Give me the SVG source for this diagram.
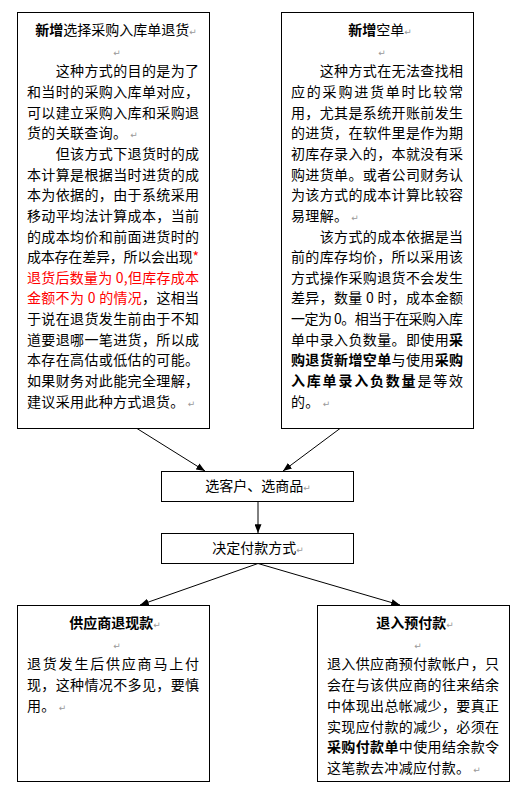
<svg xmlns="http://www.w3.org/2000/svg" width="524" height="804" viewBox="0 0 524 804">
<style>
.t{font-family:"Noto Sans CJK SC","Noto Sans CJK JP",sans-serif;font-size:14px;fill:#000}
.n{letter-spacing:0.33px}
.b{font-weight:bold}
.r{fill:#f00}
.p{font-family:"DejaVu Sans",sans-serif;font-size:9px;font-weight:normal;fill:#999;letter-spacing:0}
.box{fill:#fff;stroke:#000;stroke-width:1}
.c{stroke:#000;stroke-width:1;fill:none;marker-end:url(#ah)}
</style>
<defs>
<marker id="ah" markerUnits="userSpaceOnUse" viewBox="0 0 10 8" refX="10" refY="4" markerWidth="9" markerHeight="7" orient="auto">
<path d="M0,0 L10,4 L0,8 z" fill="#000"/>
</marker>
</defs>
<rect width="524" height="804" fill="#fff"/>
<g id="connectors">
<line class="c" x1="137" y1="428.5" x2="205" y2="471"/>
<line class="c" x1="340" y1="428.5" x2="283" y2="471"/>
<line class="c" x1="258" y1="501.5" x2="258" y2="533"/>
<line class="c" x1="258" y1="563.5" x2="140" y2="605"/>
<line class="c" x1="258" y1="563.5" x2="400" y2="605"/>
</g>
<g id="node-xuanze">
<rect class="box" x="17.5" y="12.5" width="192" height="416"/>
<text class="t" x="116" y="35" text-anchor="middle"><tspan class="b">新增</tspan>选择采购入库单退货<tspan class="p">↵</tspan></text>
<text class="p" x="117" y="55.65" text-anchor="middle">↵</text>
<text class="t" x="55.7" y="76.3" textLength="143.3" lengthAdjust="spacing">这种方式的目的是为了</text>
<text class="t" x="27" y="96.95" textLength="172" lengthAdjust="spacing">和当时的采购入库单对应，</text>
<text class="t" x="27" y="117.6" textLength="172" lengthAdjust="spacing">可以建立采购入库和采购退</text>
<text class="t n" x="27" y="138.25">货的关联查询。<tspan class="p" dx="3">↵</tspan></text>
<text class="t" x="55.7" y="158.9" textLength="143.3" lengthAdjust="spacing">但该方式下退货时的成</text>
<text class="t" x="27" y="179.55" textLength="172" lengthAdjust="spacing">本计算是根据当时进货的成</text>
<text class="t" x="27" y="200.2" textLength="172" lengthAdjust="spacing">本为依据的，由于系统采用</text>
<text class="t" x="27" y="220.85" textLength="172" lengthAdjust="spacing">移动平均法计算成本，当前</text>
<text class="t" x="27" y="241.5" textLength="172" lengthAdjust="spacing">的成本均价和前面进货时的</text>
<text class="t" x="27" y="262.15" textLength="172" lengthAdjust="spacing">成本存在差异，所以会出现<tspan class="r">*</tspan></text>
<text class="t r" x="27" y="282.8" textLength="172" lengthAdjust="spacing">退货后数量为 0,但库存成本</text>
<text class="t" x="27" y="303.45" textLength="172" lengthAdjust="spacing"><tspan class="r">金额不为 0 的情况</tspan>，这相当</text>
<text class="t" x="27" y="324.1" textLength="172" lengthAdjust="spacing">于说在退货发生前由于不知</text>
<text class="t" x="27" y="344.75" textLength="172" lengthAdjust="spacing">道要退哪一笔进货，所以成</text>
<text class="t" x="27" y="365.4" textLength="172" lengthAdjust="spacing">本存在高估或低估的可能。</text>
<text class="t" x="27" y="386.05" textLength="172" lengthAdjust="spacing">如果财务对此能完全理解，</text>
<text class="t n" x="27" y="406.7">建议采用此种方式退货。<tspan class="p" dx="3">↵</tspan></text>
</g>
<g id="node-kongdan">
<rect class="box" x="281.5" y="12.5" width="192" height="416"/>
<text class="t" x="380" y="35" text-anchor="middle"><tspan class="b">新增</tspan>空单<tspan class="p">↵</tspan></text>
<text class="p" x="382" y="55.65" text-anchor="middle">↵</text>
<text class="t" x="319.7" y="76.3" textLength="143.3" lengthAdjust="spacing">这种方式在无法查找相</text>
<text class="t" x="291" y="96.95" textLength="172" lengthAdjust="spacing">应的采购进货单时比较常</text>
<text class="t" x="291" y="117.6" textLength="172" lengthAdjust="spacing">用，尤其是系统开账前发生</text>
<text class="t" x="291" y="138.25" textLength="172" lengthAdjust="spacing">的进货，在软件里是作为期</text>
<text class="t" x="291" y="158.9" textLength="172" lengthAdjust="spacing">初库存录入的，本就没有采</text>
<text class="t" x="291" y="179.55" textLength="172" lengthAdjust="spacing">购进货单。或者公司财务认</text>
<text class="t" x="291" y="200.2" textLength="172" lengthAdjust="spacing">为该方式的成本计算比较容</text>
<text class="t n" x="291" y="220.85">易理解。<tspan class="p" dx="3">↵</tspan></text>
<text class="t" x="319.7" y="241.5" textLength="143.3" lengthAdjust="spacing">该方式的成本依据是当</text>
<text class="t" x="291" y="262.15" textLength="172" lengthAdjust="spacing">前的库存均价，所以采用该</text>
<text class="t" x="291" y="282.8" textLength="172" lengthAdjust="spacing">方式操作采购退货不会发生</text>
<text class="t" x="291" y="303.45" textLength="172" lengthAdjust="spacing">差异，数量 0 时，成本金额</text>
<text class="t" x="291" y="324.1" textLength="172" lengthAdjust="spacing">一定为 0。相当于在采购入库</text>
<text class="t" x="291" y="344.75" textLength="172" lengthAdjust="spacing">单中录入负数量。即使用<tspan class="b">采</tspan></text>
<text class="t" x="291" y="365.4" textLength="172" lengthAdjust="spacing"><tspan class="b">购退货新增空单</tspan>与使用<tspan class="b">采购</tspan></text>
<text class="t" x="291" y="386.05" textLength="172" lengthAdjust="spacing"><tspan class="b">入库单录入负数量</tspan>是等效</text>
<text class="t n" x="291" y="406.7">的。<tspan class="p" dx="3">↵</tspan></text>
</g>
<g id="node-xuankehu">
<rect class="box" x="161.5" y="471.5" width="192" height="30"/>
<text class="t" x="258" y="491" text-anchor="middle">选客户、选商品<tspan class="p">↵</tspan></text>
</g>
<g id="node-fukuan">
<rect class="box" x="161.5" y="533.5" width="192" height="30"/>
<text class="t" x="258" y="553" text-anchor="middle">决定付款方式<tspan class="p">↵</tspan></text>
</g>
<g id="node-tuixian">
<rect class="box" x="17.5" y="605.5" width="192" height="176"/>
<text class="t" x="115" y="628" text-anchor="middle"><tspan class="b">供应商退现款</tspan><tspan class="p">↵</tspan></text>
<text class="p" x="117" y="648.7" text-anchor="middle">↵</text>
<text class="t" x="27" y="669.4" textLength="172" lengthAdjust="spacing">退货发生后供应商马上付</text>
<text class="t" x="27" y="690.1" textLength="172" lengthAdjust="spacing">现，这种情况不多见，要慎</text>
<text class="t n" x="27" y="710.8">用。<tspan class="p" dx="3">↵</tspan></text>
</g>
<g id="node-yufu">
<rect class="box" x="317.5" y="605.5" width="192" height="176"/>
<text class="t" x="415" y="628" text-anchor="middle"><tspan class="b">退入预付款</tspan><tspan class="p">↵</tspan></text>
<text class="p" x="418" y="648.7" text-anchor="middle">↵</text>
<text class="t" x="327" y="669.4" textLength="172" lengthAdjust="spacing">退入供应商预付款帐户，只</text>
<text class="t" x="327" y="690.1" textLength="172" lengthAdjust="spacing">会在与该供应商的往来结余</text>
<text class="t" x="327" y="710.8" textLength="172" lengthAdjust="spacing">中体现出总帐减少，要真正</text>
<text class="t" x="327" y="731.5" textLength="172" lengthAdjust="spacing">实现应付款的减少，必须在</text>
<text class="t" x="327" y="752.2" textLength="172" lengthAdjust="spacing"><tspan class="b">采购付款单</tspan>中使用结余款令</text>
<text class="t n" x="327" y="772.9">这笔款去冲减应付款。<tspan class="p" dx="3">↵</tspan></text>
</g>
</svg>
